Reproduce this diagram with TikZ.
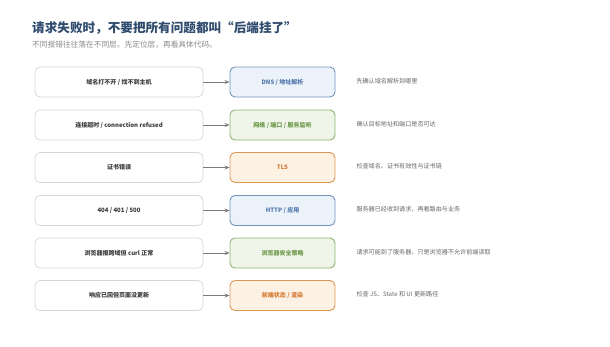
\documentclass[tikz,border=0pt]{standalone}
\usepackage{fontspec}
\setmainfont{Noto Sans CJK SC}
\usepackage{tikz}
\usetikzlibrary{arrows.meta,positioning}

\definecolor{titlec}{HTML}{2F4B6E}
\definecolor{subc}{HTML}{8A8A8A}
\definecolor{symc}{HTML}{3A3A3A}
\definecolor{notec}{HTML}{666666}
\definecolor{symline}{HTML}{D6D6D6}
\definecolor{arrc}{HTML}{7A7A7A}
\definecolor{bluefill}{HTML}{EBF2FA}
\definecolor{blueline}{HTML}{7393BF}
\definecolor{bluetext}{HTML}{5378AD}
\definecolor{greenfill}{HTML}{EFF5E8}
\definecolor{greenline}{HTML}{8DB46E}
\definecolor{greentext}{HTML}{6E9A4C}
\definecolor{orangefill}{HTML}{FDF1E4}
\definecolor{orangeline}{HTML}{DE9658}
\definecolor{orangetext}{HTML}{D27A33}

\begin{document}
\begin{tikzpicture}[
    x=1pt, y=-1pt,
    sym/.style={draw=symline, line width=0.7pt, rounded corners=5pt, fill=white, minimum width=168pt, minimum height=30pt, font=\fontsize{6}{7}\selectfont\bfseries, text=symc},
    layer/.style={rounded corners=5pt, line width=0.9pt, minimum width=105pt, minimum height=30pt, font=\fontsize{6}{7}\selectfont\bfseries},
    bluel/.style={layer, draw=blueline, fill=bluefill, text=bluetext},
    greenl/.style={layer, draw=greenline, fill=greenfill, text=greentext},
    orangel/.style={layer, draw=orangeline, fill=orangefill, text=orangetext},
    note/.style={anchor=west, font=\fontsize{6.1}{7}\selectfont, text=notec},
    arr/.style={-{Stealth[length=5pt, width=4pt]}, draw=arrc, line width=0.8pt}
]
\useasboundingbox (0,0) rectangle (610,346);

\node[anchor=west, inner sep=0pt, text=titlec, font=\fontsize{12.6}{14}\selectfont\bfseries] (title) at (32,28.5) {请求失败时，不要把所有问题都叫“后端挂了”};
\node[anchor=west, inner sep=0pt, text=subc, font=\fontsize{7.7}{9}\selectfont] (sub) at (32,44.5) {不同报错往往落在不同层。先定位层，再看具体代码。};

\node[sym] (s1) at (119,82) {域名打不开 / 找不到主机};
\node[sym] (s2) at (119,125) {连接超时 / connection refused};
\node[sym] (s3) at (119,167.5) {证书错误};
\node[sym] (s4) at (119,210.5) {404 / 401 / 500};
\node[sym] (s5) at (119,253) {浏览器报跨域但 curl 正常};
\node[sym] (s6) at (119,295.5) {响应已回但页面没更新};

\node[bluel] (l1) at (282.5,82) {DNS / 地址解析};
\node[greenl] (l2) at (282.5,125) {网络 / 端口 / 服务监听};
\node[orangel] (l3) at (282.5,167.5) {TLS};
\node[bluel] (l4) at (282.5,210.5) {HTTP / 应用};
\node[greenl] (l5) at (282.5,253) {浏览器安全策略};
\node[orangel] (l6) at (282.5,295.5) {前端状态 / 渲染};

\node[note] (n1) at (353,81) {先确认域名解析到哪里};
\node[note] (n2) at (353,124) {确认目标地址和端口是否可达};
\node[note] (n3) at (353,166.5) {检查域名、证书有效性与证书链};
\node[note] (n4) at (353,209.5) {服务器已经收到请求，再看路由与业务};
\node[note] (n5) at (353,252) {请求可能到了服务器，只是浏览器不允许前端读取};
\node[note] (n6) at (353,294.5) {检查 JS、State 和 UI 更新路径};

\draw[arr] (s1) -- (l1);
\draw[arr] (s2) -- (l2);
\draw[arr] (s3) -- (l3);
\draw[arr] (s4) -- (l4);
\draw[arr] (s5) -- (l5);
\draw[arr] (s6) -- (l6);
\end{tikzpicture}
\end{document}
